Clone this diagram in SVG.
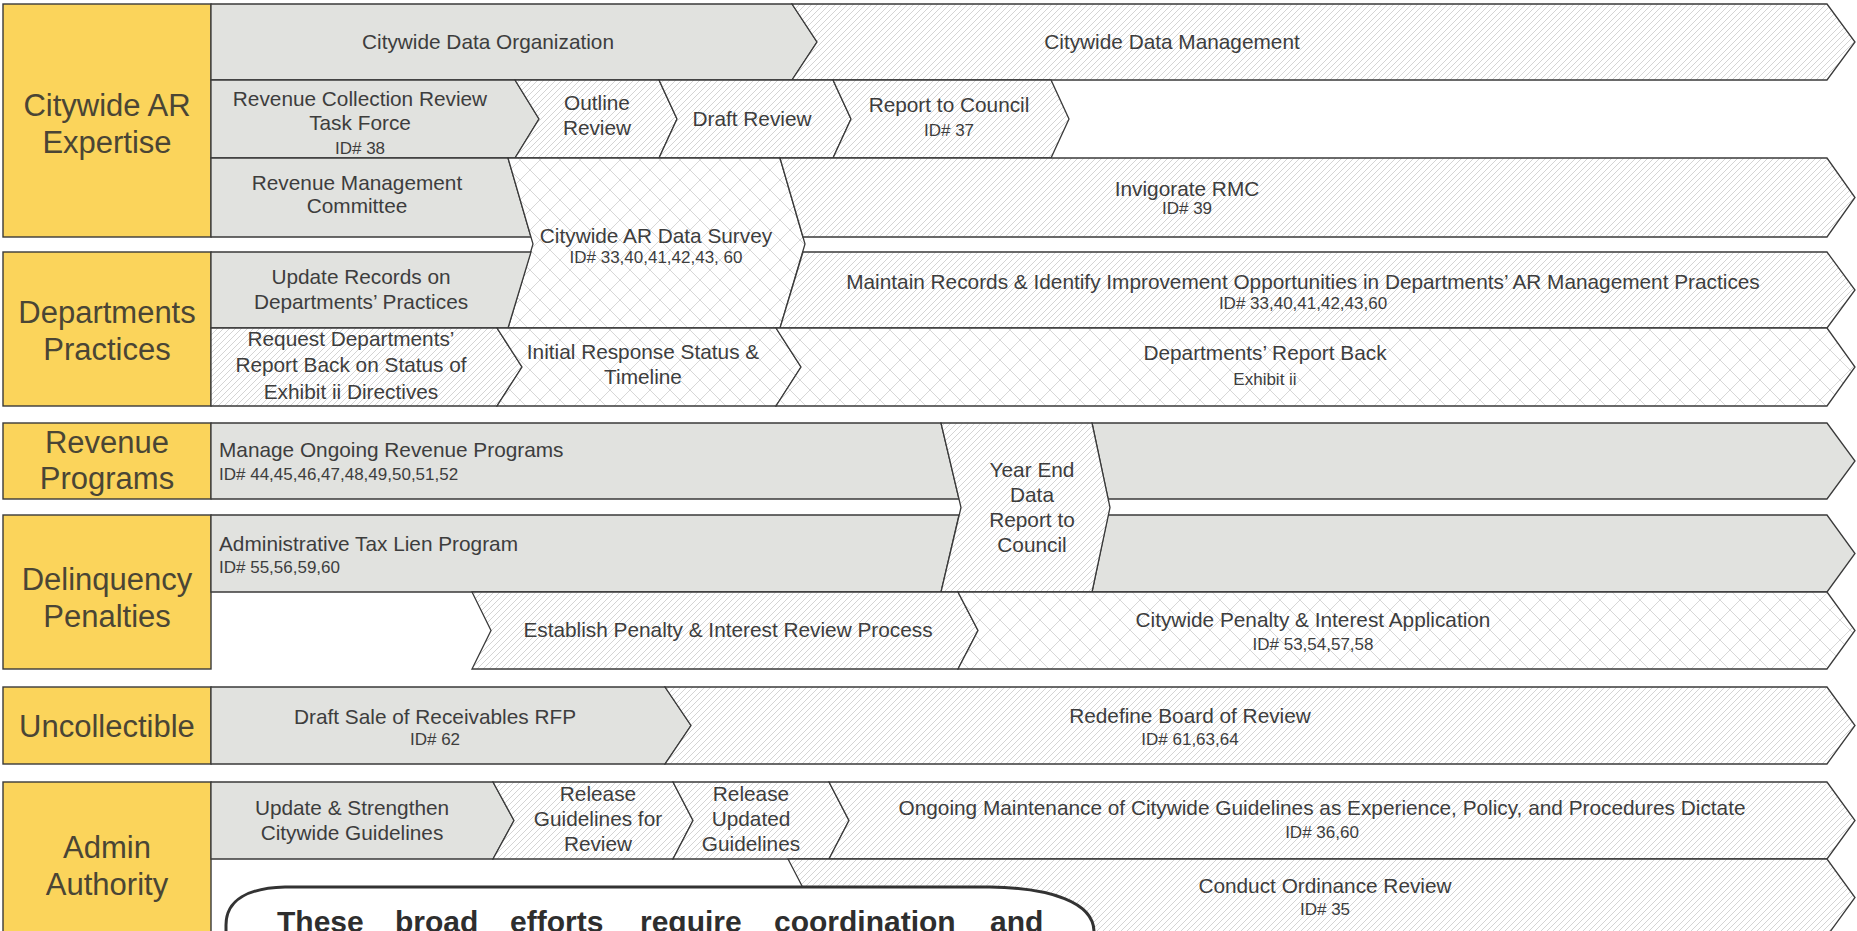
<svg xmlns="http://www.w3.org/2000/svg" width="1857" height="931" viewBox="0 0 1857 931">
<defs>
<pattern id="diag" width="6" height="6" patternUnits="userSpaceOnUse">
<rect width="6" height="6" fill="#ffffff"/>
<path d="M-1,1 L1,-1 M0,6 L6,0 M5,7 L7,5" stroke="#c9c9c9" stroke-width="0.8"/>
</pattern>
<pattern id="cross" width="20" height="20" patternUnits="userSpaceOnUse">
<rect width="20" height="20" fill="#ffffff"/>
<path d="M0,0 L20,20 M20,0 L0,20" stroke="#d2d2d2" stroke-width="0.9"/>
</pattern>
<style>
.lbl{fill:#fbd45b;stroke:#3a3a3a;stroke-width:1.4}
.gray{fill:#e1e2df;stroke:#3a3a3a;stroke-width:1.3}
.hat{fill:url(#diag);stroke:#3a3a3a;stroke-width:1.3}
.crs{fill:url(#cross);stroke:#3a3a3a;stroke-width:1.3}
text{font-family:"Liberation Sans",Arial,sans-serif}
.lt{font-size:31px;fill:#4a4535;text-anchor:middle}
.t{font-size:20.8px;fill:#3d3d3d;text-anchor:middle}
.tl{font-size:20.8px;fill:#3d3d3d;text-anchor:start}
.id{font-size:17px;fill:#3d3d3d;text-anchor:middle}
.idl{font-size:17px;fill:#3d3d3d;text-anchor:start}
.call{fill:#ffffff;stroke:#333333;stroke-width:3}
.ct{font-size:30px;font-weight:bold;fill:#2e2e2e}
</style>
</defs>
<rect width="1857" height="931" fill="#ffffff"/>

<!-- Row 1: Citywide AR Expertise -->
<g id="lbl-citywide">
<rect class="lbl" x="3" y="4" width="208" height="233"/>
<text class="lt" x="107" y="116">Citywide AR</text>
<text class="lt" x="107" y="153">Expertise</text>
</g>
<g id="citywide-data-org">
<path class="gray" d="M211,4 H792 L817,42 L792,80 H211 Z"/>
<text class="t" x="488" y="49">Citywide Data Organization</text>
</g>
<g id="citywide-data-mgmt">
<path class="hat" d="M792,4 H1827 L1855,42 L1827,80 H792 L817,42 Z"/>
<text class="t" x="1172" y="49">Citywide Data Management</text>
</g>
<g id="rev-collection-task-force">
<path class="gray" d="M211,80 H515 L539,119 L515,158 H211 Z"/>
<text class="t" x="360" y="106">Revenue Collection Review</text>
<text class="t" x="360" y="130">Task Force</text>
<text class="id" x="360" y="154">ID# 38</text>
</g>
<g id="outline-review">
<path class="hat" d="M515,80 H659 L677,119 L659,158 H515 L539,119 Z"/>
<text class="t" x="597" y="110">Outline</text>
<text class="t" x="597" y="135">Review</text>
</g>
<g id="draft-review">
<path class="hat" d="M659,80 H833 L851,119 L833,158 H659 L677,119 Z"/>
<text class="t" x="752" y="126">Draft Review</text>
</g>
<g id="report-to-council">
<path class="hat" d="M833,80 H1051 L1069,119 L1051,158 H833 L851,119 Z"/>
<text class="t" x="949" y="112">Report to Council</text>
<text class="id" x="949" y="136">ID# 37</text>
</g>
<g id="rev-mgmt-committee">
<path class="gray" d="M211,158 H508 L531,237 H211 Z"/>
<text class="t" x="357" y="190">Revenue Management</text>
<text class="t" x="357" y="213">Committee</text>
</g>
<g id="ar-data-survey">
<path class="crs" d="M508,158 H780 L805,244 L780,328 H508 L533,244 Z"/>
<text class="t" x="656" y="243">Citywide AR Data Survey</text>
<text class="id" x="656" y="263">ID# 33,40,41,42,43, 60</text>
</g>
<g id="invigorate-rmc">
<path class="hat" d="M780,158 H1827 L1855,197.5 L1827,237 H803 Z"/>
<text class="t" x="1187" y="196">Invigorate RMC</text>
<text class="id" x="1187" y="214">ID# 39</text>
</g>

<!-- Row 2: Departments Practices -->
<g id="lbl-departments">
<rect class="lbl" x="3" y="252" width="208" height="154"/>
<text class="lt" x="107" y="323">Departments</text>
<text class="lt" x="107" y="360">Practices</text>
</g>
<g id="update-records">
<path class="gray" d="M211,252 H531 L508,328 H211 Z"/>
<text class="t" x="361" y="284">Update Records on</text>
<text class="t" x="361" y="309">Departments’ Practices</text>
</g>
<g id="maintain-records">
<path class="hat" d="M803,252 H1827 L1855,290 L1827,328 H780 Z"/>
<text class="t" x="1303" y="289">Maintain Records &amp; Identify Improvement Opportunities in Departments’ AR Management Practices</text>
<text class="id" x="1303" y="309">ID# 33,40,41,42,43,60</text>
</g>
<g id="request-report-back">
<path class="hat" d="M211,328 H497 L522,367 L497,406 H211 Z"/>
<text class="t" x="351" y="346">Request Departments’</text>
<text class="t" x="351" y="372">Report Back on Status of</text>
<text class="t" x="351" y="399">Exhibit ii Directives</text>
</g>
<g id="initial-response">
<path class="crs" d="M497,328 H776 L801,367 L776,406 H497 L522,367 Z"/>
<text class="t" x="643" y="359">Initial Response Status &amp;</text>
<text class="t" x="643" y="384">Timeline</text>
</g>
<g id="dept-report-back">
<path class="crs" d="M776,328 H1827 L1855,367 L1827,406 H776 L801,367 Z"/>
<text class="t" x="1265" y="360">Departments’ Report Back</text>
<text class="id" x="1265" y="385">Exhibit ii</text>
</g>

<!-- Row 3: Revenue Programs -->
<g id="lbl-revenue">
<rect class="lbl" x="3" y="423" width="208" height="76"/>
<text class="lt" x="107" y="453">Revenue</text>
<text class="lt" x="107" y="489">Programs</text>
</g>
<g id="manage-ongoing">
<path class="gray" d="M211,423 H941 L959,499 H211 Z"/>
<path class="gray" d="M1092,423 H1827 L1855,461 L1827,499 H1108 Z"/>
<text class="tl" x="219" y="457">Manage Ongoing Revenue Programs</text>
<text class="idl" x="219" y="480">ID# 44,45,46,47,48,49,50,51,52</text>
</g>

<!-- Row 4: Delinquency Penalties -->
<g id="lbl-delinquency">
<rect class="lbl" x="3" y="515" width="208" height="154"/>
<text class="lt" x="107" y="590">Delinquency</text>
<text class="lt" x="107" y="627">Penalties</text>
</g>
<g id="tax-lien">
<path class="gray" d="M211,515 H959 L941,592 H211 Z"/>
<path class="gray" d="M1108,515 H1827 L1855,553.5 L1827,592 H1092 Z"/>
<text class="tl" x="219" y="551">Administrative Tax Lien Program</text>
<text class="idl" x="219" y="573">ID# 55,56,59,60</text>
</g>
<g id="year-end-report">
<path class="hat" d="M941,423 H1092 L1110,507.5 L1092,592 H941 L961,507.5 Z"/>
<text class="t" x="1032" y="477">Year End</text>
<text class="t" x="1032" y="502">Data</text>
<text class="t" x="1032" y="527">Report to</text>
<text class="t" x="1032" y="552">Council</text>
</g>
<g id="establish-penalty">
<path class="hat" d="M472,592 H958 L978,630.5 L958,669 H472 L491,630.5 Z"/>
<text class="t" x="728" y="637">Establish Penalty &amp; Interest Review Process</text>
</g>
<g id="penalty-application">
<path class="crs" d="M958,592 H1827 L1855,630.5 L1827,669 H958 L978,630.5 Z"/>
<text class="t" x="1313" y="627">Citywide Penalty &amp; Interest Application</text>
<text class="id" x="1313" y="650">ID# 53,54,57,58</text>
</g>

<!-- Row 5: Uncollectible -->
<g id="lbl-uncollectible">
<rect class="lbl" x="3" y="687" width="208" height="77"/>
<text class="lt" x="107" y="737">Uncollectible</text>
</g>
<g id="draft-sale">
<path class="gray" d="M211,687 H665 L691,725.5 L665,764 H211 Z"/>
<text class="t" x="435" y="724">Draft Sale of Receivables RFP</text>
<text class="id" x="435" y="745">ID# 62</text>
</g>
<g id="redefine-board">
<path class="hat" d="M665,687 H1827 L1855,725.5 L1827,764 H665 L691,725.5 Z"/>
<text class="t" x="1190" y="723">Redefine Board of Review</text>
<text class="id" x="1190" y="745">ID# 61,63,64</text>
</g>

<!-- Row 6: Admin Authority -->
<g id="lbl-admin">
<rect class="lbl" x="3" y="782" width="208" height="170"/>
<text class="lt" x="107" y="858">Admin</text>
<text class="lt" x="107" y="895">Authority</text>
</g>
<g id="update-strengthen">
<path class="gray" d="M211,782 H493 L514,820.5 L493,859 H211 Z"/>
<text class="t" x="352" y="815">Update &amp; Strengthen</text>
<text class="t" x="352" y="840">Citywide Guidelines</text>
</g>
<g id="release-for-review">
<path class="hat" d="M493,782 H673 L693,820.5 L673,859 H493 L514,820.5 Z"/>
<text class="t" x="598" y="801">Release</text>
<text class="t" x="598" y="826">Guidelines for</text>
<text class="t" x="598" y="851">Review</text>
</g>
<g id="release-updated">
<path class="hat" d="M673,782 H829 L849,820.5 L829,859 H673 L693,820.5 Z"/>
<text class="t" x="751" y="801">Release</text>
<text class="t" x="751" y="826">Updated</text>
<text class="t" x="751" y="851">Guidelines</text>
</g>
<g id="ongoing-maintenance">
<path class="hat" d="M829,782 H1827 L1855,820.5 L1827,859 H829 L849,820.5 Z"/>
<text class="t" x="1322" y="815">Ongoing Maintenance of Citywide Guidelines as Experience, Policy, and Procedures Dictate</text>
<text class="id" x="1322" y="838">ID# 36,60</text>
</g>
<g id="ordinance-review">
<path class="hat" d="M788,859 H1827 L1855,897.5 L1827,936 H788 L808,897.5 Z"/>
<text class="t" x="1325" y="893">Conduct Ordinance Review</text>
<text class="id" x="1325" y="915">ID# 35</text>
</g>

<g id="callout">
<path class="call" d="M226,1000 L226,925 C226,900 248,888 285,887 L990,887 C1050,888 1094,902 1094,932 L1094,1000 Z"/>
<text class="ct" y="932"><tspan x="277">These</tspan><tspan x="395">broad</tspan><tspan x="510">efforts</tspan><tspan x="640">require</tspan><tspan x="774">coordination</tspan><tspan x="990">and</tspan></text>
</g>

<g id="connectors"></g>
</svg>
